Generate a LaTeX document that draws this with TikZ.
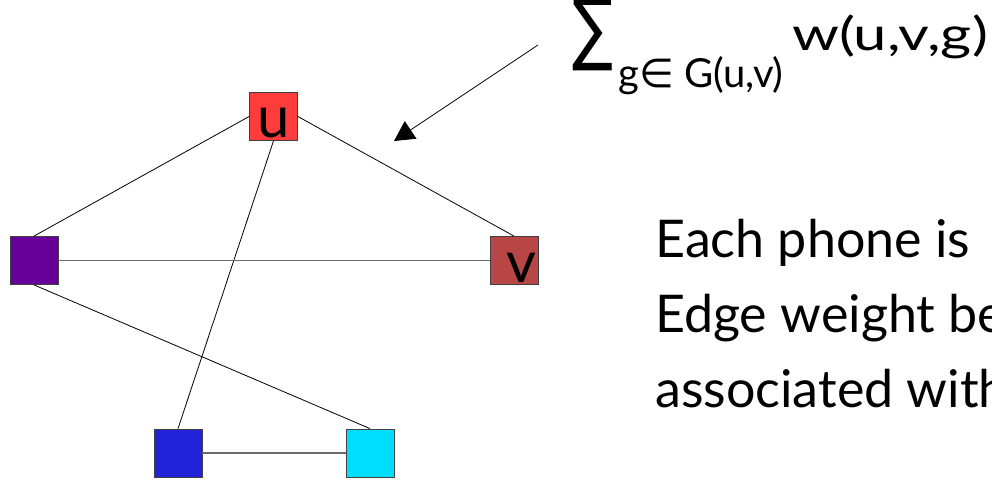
\documentclass[tikz,border=0pt]{standalone}
\usepackage{fontspec}
\setmainfont{Lato}
\newfontfamily\symfont{DejaVu Sans}
\newfontfamily\widefont[FakeStretch=1.3]{Lato}
\usetikzlibrary{arrows.meta}

\definecolor{uRed}{HTML}{FF3C3C}
\definecolor{vRed}{HTML}{B94646}
\definecolor{pPurple}{HTML}{660099}
\definecolor{pBlue}{HTML}{2222D8}
\definecolor{pCyan}{HTML}{00DDFF}
\definecolor{boxline}{HTML}{404040}
\definecolor{tieGrey}{HTML}{6A6A6A}

\begin{document}
\begin{tikzpicture}[x=1pt, y=-1pt,
  phone/.style={draw=boxline, line width=0.8pt, minimum size=48pt, inner sep=0pt},
  tie/.style={draw=black, line width=0.8pt},
  greytie/.style={draw=tieGrey, line width=1.8pt},
  boxlabel/.style={font=\fontsize{58}{58}\selectfont, inner sep=0pt},
  bigtext/.style={font=\fontsize{52}{75}\selectfont, align=left, inner sep=0pt}
]
\useasboundingbox (0,0) rectangle (992,480);
\clip (0,0) rectangle (992,480);

% phones
\node[phone, fill=uRed]    (u) at (273.5,116.5) {};
\node[phone, fill=pPurple] (p) at (34,260.5) {};
\node[phone, fill=vRed]    (v) at (514,260.5) {};
\node[phone, fill=pBlue]   (b) at (178,453) {};
\node[phone, fill=pCyan]   (c) at (370,453) {};

% edges
\draw[tie] (p.north) -- (u.west);
\draw[tie] (u.east) -- (v.north);
\draw[tie] (u.south) -- (b.north);
\draw[tie] (p.south) -- (c.north);
\draw[greytie] (p.east) -- (v.west);
\draw[greytie] (b.east) -- (c.west);

% labels on the phones
\node[boxlabel] (ul) at (273.5,123) {u};
\node[boxlabel] (vl) at (521.5,268) {v};

% edge weight formula and pointer
\node[anchor=south west, inner sep=0pt, font=\symfont\fontsize{80}{80}\selectfont] (sum) at (572,71) {\scalebox{0.76}[1]{∑}};
\node[anchor=base west, inner sep=0pt, font=\fontsize{40}{40}\selectfont] (sub) at (618,87) {g{\symfont ∈} G(u,v)};
\node[anchor=base west, inner sep=0pt, font=\widefont\fontsize{46}{46}\selectfont] (w) at (792,50) {w(u,v,g)};
\coordinate (from) at (538,45);
\coordinate (to) at (394,141);
\draw[line width=0.8pt, -{Triangle[length=20pt,width=21pt]}] (from) -- (to);

% description
\node[bigtext, anchor=base west] (desc) at (655,407) {Each phone is\\Edge weight be\\associated with};
\end{tikzpicture}
\end{document}
